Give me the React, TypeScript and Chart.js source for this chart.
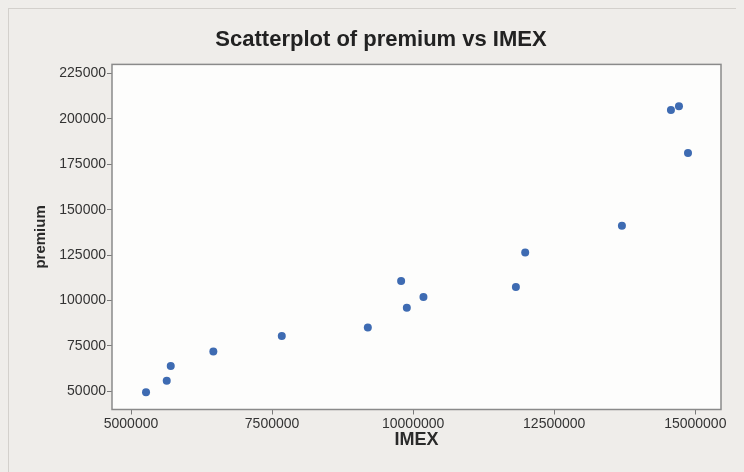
import { useEffect, useRef } from "react";
import { Chart, registerables } from "chart.js";

Chart.register(...registerables);

// IMEX values (x) and premium values (y)
const imexValues = [
  5266000, 5633000, 5704000, 6459000, 7672000, 9197000, 9787000, 9888000,
  10183000, 11821000, 11986000, 13700000, 14569000, 14711000, 14871000,
];
const premiumValues = [
  49500, 55800, 63900, 72000, 80500, 85200, 110700, 96000, 102000, 107500,
  126500, 141100, 204900, 206900, 181200,
];
const xTickValues = [5000000, 7500000, 10000000, 12500000, 15000000];
const yTickValues = [50000, 75000, 100000, 125000, 150000, 175000, 200000, 225000];

const chartTitle = "Scatterplot of premium vs IMEX";
const xTitle = "IMEX";
const yTitle = "premium";

const FONT = "'Liberation Sans', Arial, Helvetica, sans-serif";

const plotFrame = {
  id: "plotFrame",
  beforeDraw(chart: any) {
    const { ctx, chartArea } = chart;
    const { left, top, right, bottom } = chartArea;
    ctx.save();
    ctx.fillStyle = "#fdfdfc";
    ctx.fillRect(left, top, right - left, bottom - top);
    ctx.restore();
  },
  afterDraw(chart: any) {
    const { ctx, chartArea } = chart;
    const { left, top, right, bottom } = chartArea;
    ctx.save();
    ctx.strokeStyle = "#8a8a8a";
    ctx.lineWidth = 1.5;
    ctx.strokeRect(left, top, right - left, bottom - top);
    ctx.restore();
  },
};

export default function App() {
  const canvasRef = useRef<HTMLCanvasElement | null>(null);

  useEffect(() => {
    document.documentElement.style.overflow = "hidden";
    document.documentElement.style.background = "#efedea";
    document.body.style.background = "#efedea";
    const canvas = canvasRef.current;
    if (!canvas) return;
    const data = imexValues.map((x, i) => ({ x, y: premiumValues[i] }));
    const chart = new Chart(canvas, {
      type: "scatter",
      data: {
        datasets: [
          {
            label: "premium",
            data,
            backgroundColor: "#3e6bb2",
            borderColor: "#3e6bb2",
            borderWidth: 0,
            pointRadius: 4,
            pointHoverRadius: 4,
          },
        ],
      },
      options: {
        responsive: false,
        animation: false,
        events: [],
        layout: { padding: { left: 32, right: 23, top: 0, bottom: 0 } },
        plugins: {
          legend: { display: false },
          tooltip: { enabled: false },
          title: {
            display: true,
            text: chartTitle,
            color: "#222222",
            font: { family: FONT, size: 22, weight: "bold", lineHeight: 1.2 },
            padding: { top: 18, bottom: 11 },
          },
        },
        scales: {
          x: {
            type: "linear",
            min: 4663000,
            max: 15456000,
            afterBuildTicks: (axis: any) => {
              axis.ticks = xTickValues.map((v) => ({ value: v }));
            },
            afterFit: (axis: any) => {
              axis.height = 62.5;
            },
            border: { display: false },
            grid: {
              drawOnChartArea: false,
              drawTicks: true,
              tickLength: 5,
              color: "#7a7a7a",
              lineWidth: 1,
            },
            ticks: {
              padding: 1,
              color: "#333333",
              font: { family: FONT, size: 14 },
              maxRotation: 0,
              autoSkip: false,
              callback: (v: any) => String(v),
            },
            title: {
              display: true,
              text: xTitle,
              color: "#2a2a2a",
              font: { family: FONT, size: 18, weight: "bold", lineHeight: 1.2 },
              padding: { top: 0, bottom: 21 },
            },
          },
          y: {
            type: "linear",
            min: 40000,
            max: 230000,
            afterBuildTicks: (axis: any) => {
              axis.ticks = yTickValues.map((v) => ({ value: v }));
            },
            afterFit: (axis: any) => {
              axis.width = 71;
            },
            border: { display: false },
            grid: {
              drawOnChartArea: false,
              drawTicks: true,
              tickLength: 5,
              color: "#7a7a7a",
              lineWidth: 1,
            },
            ticks: {
              padding: 1,
              color: "#333333",
              font: { family: FONT, size: 14 },
              autoSkip: false,
              callback: (v: any) => String(v),
            },
            title: {
              display: true,
              text: yTitle,
              color: "#2a2a2a",
              font: { family: FONT, size: 15, weight: "bold", lineHeight: 1.2 },
              padding: { top: -9, bottom: 0 },
            },
          },
        },
      },
      plugins: [plotFrame],
    } as any);
    return () => chart.destroy();
  }, []);

  return (
    <div
      style={{
        width: 760,
        height: 470,
        boxSizing: "border-box",
        borderTop: "1px solid #d3d0cc",
        borderLeft: "1px solid #d3d0cc",
        background: "#efedea",
      }}
    >
      <canvas ref={canvasRef} width={735} height={463} style={{ display: "block" }} />
    </div>
  );
}
